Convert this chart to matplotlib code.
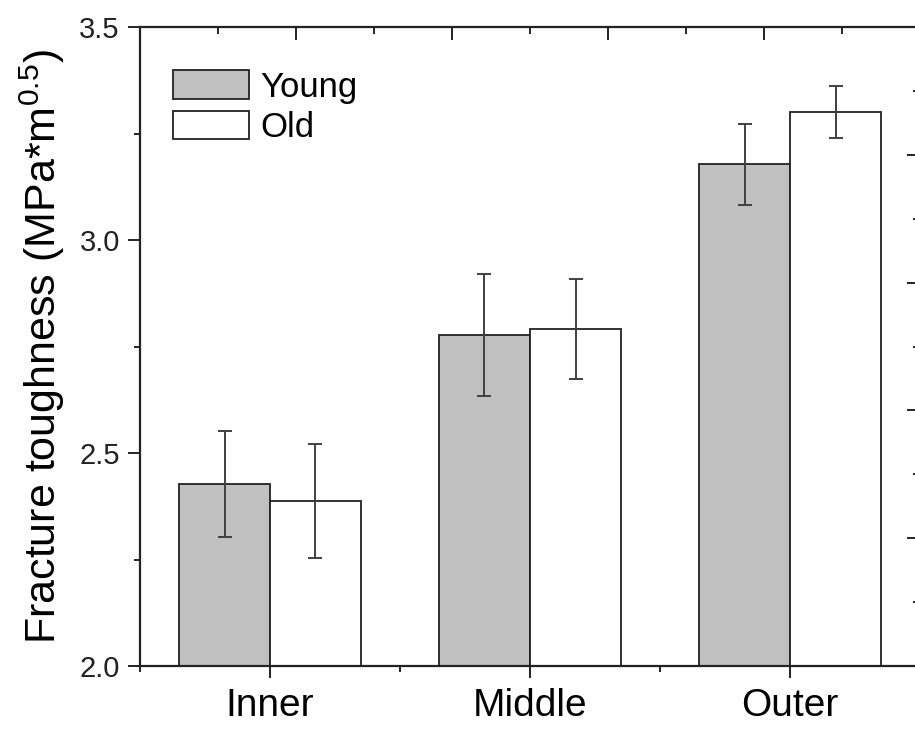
import matplotlib
matplotlib.use('Agg')
import matplotlib.pyplot as plt
import numpy as np

plt.rcParams['font.family'] = ['Liberation Sans', 'DejaVu Sans']
plt.rcParams['mathtext.fontset'] = 'custom'
plt.rcParams['mathtext.rm'] = 'Liberation Sans'
plt.rcParams['mathtext.default'] = 'regular'

categories = ['Inner', 'Middle', 'Outer']
young = [2.427, 2.777, 3.178]
young_err = [0.125, 0.144, 0.095]
old = [2.387, 2.791, 3.300]
old_err = [0.133, 0.117, 0.061]
yticks = [2.0, 2.5, 3.0, 3.5]


def main():
    fig = plt.figure(figsize=(9.15, 7.3), dpi=100)
    pos = [140 / 915, 64 / 730, 780 / 915, 639 / 730]
    ax = fig.add_axes(pos)

    x = np.arange(1, len(categories) + 1)
    w = 0.35
    ekw = dict(ecolor='#404040', elinewidth=1.4, capsize=5, capthick=1.4)
    ax.bar(x - w / 2, young, w, yerr=young_err, color='#c0c0c0',
           edgecolor='#222222', linewidth=1.3, label='Young', error_kw=ekw)
    ax.bar(x + w / 2, old, w, yerr=old_err, color='white',
           edgecolor='#222222', linewidth=1.3, label='Old', error_kw=ekw)

    ax.set_xlim(0.5, 3.5)
    ax.set_ylim(2.0, 3.5)
    ax.set_xticks(x)
    ax.set_xticklabels(categories, fontsize=28)
    ax.set_xticks([0.5, 1.5, 2.5, 3.5], minor=True)
    ax.set_yticks(yticks)
    ax.set_yticklabels(['%.1f' % v for v in yticks], fontsize=21, color='#222222')
    ax.set_yticks([2.25, 2.75, 3.25], minor=True)
    ax.tick_params(which='major', direction='out', length=8.5, width=1.4, color='#222222')
    ax.tick_params(which='minor', direction='out', length=4.5, width=1.4, color='#222222')
    ax.tick_params(axis='y', pad=6)
    ax.tick_params(axis='x', pad=7)
    for s in ax.spines.values():
        s.set_linewidth(1.6)
        s.set_color('#222222')

    ax.set_ylabel(r'Fracture toughness (MPa*m$^{0.5}$)', fontsize=31, labelpad=9)

    ax.legend(loc='upper left', bbox_to_anchor=(0.011, 0.97), frameon=False,
              fontsize=25, handlelength=2.2, handleheight=0.87,
              labelspacing=0.22, handletextpad=0.32, borderaxespad=0.3)

    # top/right axis layer (other scale, inward ticks)
    ov = fig.add_axes(pos, facecolor='none')
    ov.set_xlim(0, 5)
    ov.set_ylim(0, 5)
    for s in ov.spines.values():
        s.set_visible(False)
    ov.xaxis.tick_top()
    ov.yaxis.tick_right()
    ov.set_xticks(np.arange(0, 6))
    ov.set_xticks(np.arange(0.5, 5, 1), minor=True)
    ov.set_yticks(np.arange(0, 6))
    ov.set_yticks(np.arange(0.5, 5, 1), minor=True)
    ov.tick_params(which='both', direction='in', labeltop=False, labelright=False,
                   width=1.4, color='#222222')
    ov.tick_params(which='major', length=9.5)
    ov.tick_params(which='minor', length=5)

    fig.savefig('out.png', dpi=100)


if __name__ == "__main__":
    main()
